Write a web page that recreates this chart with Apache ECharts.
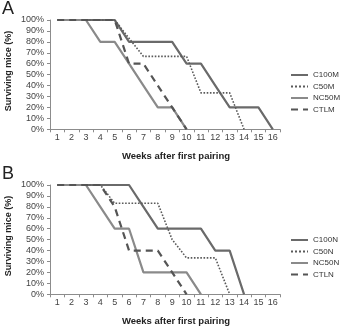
<!DOCTYPE html>
<html><head><meta charset="utf-8">
<script src="https://cdn.jsdelivr.net/npm/echarts@6/dist/echarts.min.js"></script>
<style>html,body{margin:0;padding:0;background:#fff}#c{width:340px;height:328px}</style>
</head><body><div id="c"></div>
<script>
// Categories (weeks after first pairing)
const weeks = ['1','2','3','4','5','6','7','8','9','10','11','12','13','14','15','16'];
// Panel A — surviving mice (%)
const C100M = [100,100,100,100,100,80,80,80,80,60,60,40,20,20,20,0];
const C50M  = [100,100,100,100,100,83.3,66.7,66.7,66.7,66.7,33.3,33.3,33.3,0,null,null];
const NC50M = [100,100,100,80,80,60,40,20,20,0,null,null,null,null,null,null];
const CTLM  = [100,100,100,100,100,60,60,40,20,0,null,null,null,null,null,null];
// Panel B — surviving mice (%)
const C100N = [100,100,100,100,100,100,80,60,60,60,60,40,40,0,null,null];
const C50N  = [100,100,100,100,83.3,83.3,83.3,83.3,50,33.3,33.3,33.3,0,null,null,null];
const NC50N = [100,100,100,80,60,60,20,20,20,20,0,null,null,null,null,null];
const CTLN  = [100,100,100,100,80,40,40,40,20,0,null,null,null,null,null,null];
// Labels
const panelLabels = ['A','B'];
const xTitle = 'Weeks after first pairing';
const yTitle = 'Surviving mice (%)';

const FONT = 'Liberation Sans, Arial, sans-serif';
const styles = {
  C100: {color:'#6a6a6a', width:2.2, type:'solid'},
  C50:  {color:'#5a5a5a', width:1.6, type:'dotted'},
  NC50: {color:'#8a8a8a', width:2.2, type:'solid'},
  CTL:  {color:'#555555', width:2.2, type:[7,5]}
};
function mk(name, data, st, idx){
  return {name, type:'line', data, xAxisIndex:idx, yAxisIndex:idx, symbol:'none', connectNulls:false,
    lineStyle:{color:st.color, width:st.width, type:st.type}, itemStyle:{color:st.color}, z: 2};
}
const gridTops = [20, 185];
const gridH = 109.3;
function xAx(i){
  return {type:'category', gridIndex:i, data:weeks, boundaryGap:true,
    axisLine:{lineStyle:{color:'#8c8c8c', width:1}},
    axisTick:{show:true, length:3, lineStyle:{color:'#8c8c8c'}},
    axisLabel:{fontFamily:FONT, fontSize:9, color:'#444', margin:4}};
}
function yAx(i){
  return {type:'value', gridIndex:i, min:0, max:100, interval:10,
    axisLine:{show:true, lineStyle:{color:'#8c8c8c', width:1}},
    axisTick:{show:true, length:3, lineStyle:{color:'#8c8c8c'}},
    splitLine:{show:false},
    axisLabel:{fontFamily:FONT, fontSize:9, color:'#444', margin:6, formatter:'{value}%'}};
}
const legendCommon = {orient:'vertical', left:290, itemWidth:17, itemHeight:8, itemGap:3.5, padding:0,
  itemStyle:{opacity:0, borderWidth:0},
  textStyle:{fontFamily:FONT, fontSize:8, color:'#333'}};
const graphics = [];
panelLabels.forEach((t,i)=>{
  const off = i*165;
  graphics.push({type:'text', left:2, top:off, style:{text:t, font:'18px '+FONT, fill:'#222'}});
  graphics.push({type:'text', x:176, y:off+156, style:{text:xTitle, font:'bold 9.5px '+FONT, fill:'#222', align:'center', verticalAlign:'middle'}});
  graphics.push({type:'text', x:9, y:off+71, rotation:Math.PI/2, style:{text:yTitle, font:'bold 9px '+FONT, fill:'#222', align:'center', verticalAlign:'middle'}});
});
const chart = echarts.init(document.getElementById('c'), null, {renderer:'canvas'});
chart.setOption({
  animation:false,
  backgroundColor:'#fff',
  grid:[{left:50, top:gridTops[0], width:230, height:gridH}, {left:50, top:gridTops[1], width:230, height:gridH}],
  xAxis:[xAx(0), xAx(1)],
  yAxis:[yAx(0), yAx(1)],
  legend:[
    Object.assign({}, legendCommon, {top:71, data:['C100M','C50M','NC50M','CTLM']}),
    Object.assign({}, legendCommon, {top:236, data:['C100N','C50N','NC50N','CTLN']})
  ],
  graphic:graphics,
  series:[
    mk('C100M', C100M, styles.C100, 0), mk('C50M', C50M, styles.C50, 0),
    mk('NC50M', NC50M, styles.NC50, 0), mk('CTLM', CTLM, styles.CTL, 0),
    mk('C100N', C100N, styles.C100, 1), mk('C50N', C50N, styles.C50, 1),
    mk('NC50N', NC50N, styles.NC50, 1), mk('CTLN', CTLN, styles.CTL, 1)
  ]
});
</script></body></html>
